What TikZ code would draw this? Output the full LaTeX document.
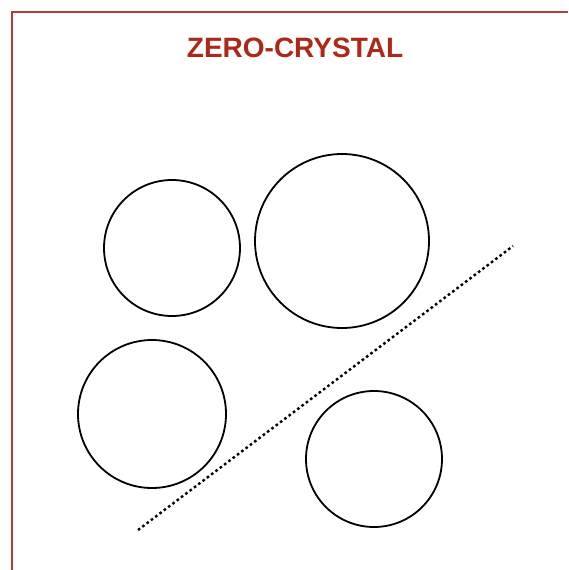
\documentclass[tikz,border=0pt]{standalone}
\usepackage{fontspec}
\setmainfont{Liberation Sans}
\definecolor{framered}{RGB}{180,62,48}
\definecolor{titlered}{RGB}{172,40,24}
\tikzset{
  grain/.style={circle,draw,line width=1.8pt,inner sep=0pt},
  cleave/.style={line width=2.4pt,dash pattern=on 2.6pt off 2.8pt}
}
\begin{document}
\begin{tikzpicture}[x=1pt,y=-1pt]
  \useasboundingbox (0,0) rectangle (568,570);
  \draw[framered,line width=2.6pt] (12,570)--(12,12)--(568,12);
  \node[font=\bfseries\fontsize{28}{30}\selectfont,titlered] (title) at (295,48) {ZERO-CRYSTAL};
  \node[grain,minimum size=136pt] (g1) at (172,248) {};
  \node[grain,minimum size=174pt] (g2) at (342,241) {};
  \node[grain,minimum size=148pt] (g3) at (152,414) {};
  \node[grain,minimum size=136pt] (g4) at (374,459) {};
  \coordinate (c1) at (138,530);
  \coordinate (c2) at (513,246);
  \draw[cleave] (c1)--(c2);
\end{tikzpicture}
\end{document}
